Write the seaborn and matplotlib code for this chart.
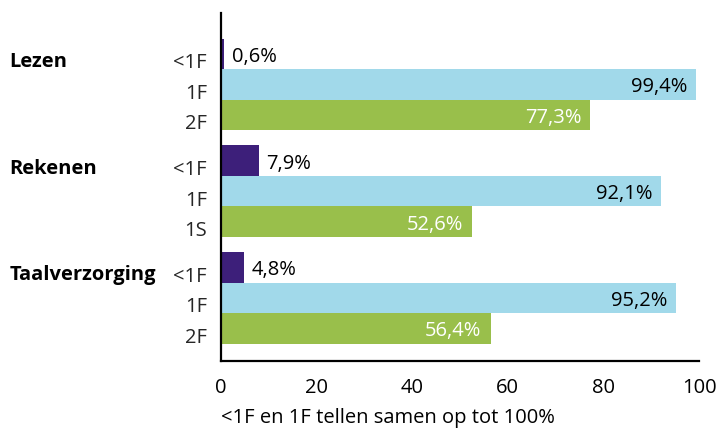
import matplotlib
matplotlib.use("Agg")
import matplotlib.pyplot as plt
from matplotlib.transforms import ScaledTranslation
import seaborn as sns
import pandas as pd

groups = ["Lezen", "Rekenen", "Taalverzorging"]
levels = [["<1F", "1F", "2F"], ["<1F", "1F", "1S"], ["<1F", "1F", "2F"]]
values = [[0.6, 99.4, 77.3], [7.9, 92.1, 52.6], [4.8, 95.2, 56.4]]
kinds = ["low", "mid", "high"]
colors = {"low": "#3d1f7a", "mid": "#a1d9ea", "high": "#99bf4b"}
label_colors = {"low": "black", "mid": "black", "high": "white"}
xticks = [0, 20, 40, 60, 80, 100]
footnote = "<1F en 1F tellen samen op tot 100%"

sns.set_theme(style="white")
plt.rcParams["font.family"] = ["Open Sans", "DejaVu Sans"]

rows = []
for gi, g in enumerate(groups):
    for ri in range(3):
        rows.append(dict(group=g, level=levels[gi][ri], value=values[gi][ri],
                         kind=kinds[ri], pos=gi * 3.5 + ri))
df = pd.DataFrame(rows)

fig = plt.figure(figsize=(7.19, 4.31), dpi=100)
ax = fig.add_axes([221 / 719, 0.16, 478 / 719, 0.8075])
sns.barplot(data=df, x="value", y="pos", hue="kind", palette=colors, orient="h",
            native_scale=True, dodge=False, width=1.0, legend=False, ax=ax,
            saturation=1, linewidth=0)

ax.set_xlim(0, 100)
ax.set_ylim(10.07, -1.34)
ax.set_xticks(xticks)
ax.set_xticklabels([str(t) for t in xticks], fontsize=14.5)
ax.set_yticks(df["pos"])
ax.set_yticklabels(df["level"], fontsize=14.5)
ax.set_xlabel("")
ax.set_ylabel("")
ax.tick_params(axis="y", length=0, pad=10)
ax.tick_params(axis="x", direction="inout", length=11, width=1.3, pad=6, colors="black")
for s in ["top", "right"]:
    ax.spines[s].set_visible(False)
for s in ["left", "bottom"]:
    ax.spines[s].set_color("black")
    ax.spines[s].set_linewidth(1.6)
ax.set_axisbelow(False)

shift_down = ScaledTranslation(0, -6 / 100, fig.dpi_scale_trans)
for lab in ax.get_yticklabels():
    lab.set_transform(lab.get_transform() + shift_down)

for _, r in df.iterrows():
    txt = f"{r['value']:.1f}%".replace(".", ",")
    if r["kind"] == "low":
        ax.annotate(txt, (r["value"], r["pos"]), xytext=(5.5, -1.5), textcoords="offset points",
                    va="center", ha="left", fontsize=14.5, color="black")
    else:
        ax.annotate(txt, (r["value"], r["pos"]), xytext=(-6.5, -1.5), textcoords="offset points",
                    va="center", ha="right", fontsize=14.5, color=label_colors[r["kind"]])

for gi, g in enumerate(groups):
    y = gi * 3.5
    ax.annotate(g, (0, y), xycoords=("figure fraction", "data"), xytext=(7, -5),
                textcoords="offset points", ha="left", va="center",
                fontsize=14.5, fontweight="bold", color="black")

fig.text(221 / 719, 1 - 418 / 431, footnote, ha="left", va="center", fontsize=14.5, color="black")

fig.savefig("out.png", dpi=100)
